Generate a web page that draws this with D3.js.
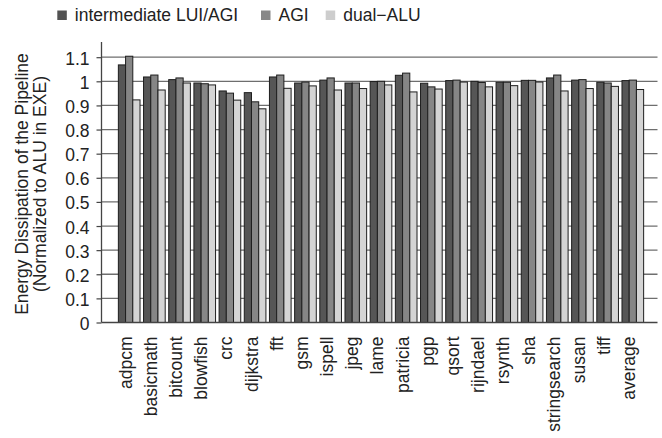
<!DOCTYPE html>
<html>
<head>
<meta charset="utf-8">
<script src="https://cdn.jsdelivr.net/npm/d3@7"></script>
<style>
  html, body { margin: 0; padding: 0; background: #fff; }
  svg { display: block; font-family: "Liberation Sans", Arial, Helvetica, sans-serif; }
</style>
</head>
<body>
<svg id="chart" width="662" height="438"></svg>
<script>
// Benchmarks (x categories)
const categories = ["adpcm", "basicmath", "bitcount", "blowfish", "crc", "dijkstra", "fft",
  "gsm", "ispell", "jpeg", "lame", "patricia", "pgp", "qsort", "rijndael", "rsynth",
  "sha", "stringsearch", "susan", "tiff", "average"];

// Series names
const seriesNames = ["intermediate LUI/AGI", "AGI", "dual\u2212ALU"];

// Normalized pipeline energy per benchmark
const luiAgi = [1.068, 1.018, 1.007, 0.993, 0.960, 0.953, 1.018, 0.993, 1.005, 0.993, 0.999,
  1.025, 0.992, 1.003, 1.000, 0.996, 1.004, 1.014, 1.005, 0.996, 1.003];
const agi = [1.104, 1.026, 1.014, 0.990, 0.951, 0.915, 1.026, 0.997, 1.014, 0.993, 1.000,
  1.034, 0.977, 1.005, 0.995, 0.996, 1.004, 1.026, 1.007, 0.993, 1.005];
const dualAlu = [0.923, 0.964, 0.993, 0.985, 0.922, 0.886, 0.971, 0.981, 0.964, 0.970, 0.985,
  0.956, 0.968, 0.997, 0.977, 0.982, 0.997, 0.960, 0.970, 0.979, 0.966];

// Y tick values and labels
const yTicks = [0, 0.1, 0.2, 0.3, 0.4, 0.5, 0.6, 0.7, 0.8, 0.9, 1.0, 1.1];
const yTickLabels = ["0", "0.1", "0.2", "0.3", "0.4", "0.5", "0.6", "0.7", "0.8", "0.9", "1", "1.1"];

const seriesValues = [luiAgi, agi, dualAlu];
const fills = ["#565656", "#868686", "#d4d4d4"];
const legendFills = ["#525252", "#888888", "#cdcdcd"];

const svg = d3.select("#chart");

// Plot frame
const plotLeft = 101.5, plotRight = 657.5, plotTop = 42, plotBottom = 322.5;

const y = d3.scaleLinear().domain([0, 1.163]).range([plotBottom, plotTop]);

const x0 = d3.scaleBand().domain(categories).range([103, 659])
  .paddingInner(0.14).paddingOuter(0.61);
const x1 = d3.scaleBand().domain(d3.range(seriesValues.length)).range([0, x0.bandwidth()]);

// Horizontal gridlines
svg.append("g")
  .selectAll("line")
  .data(yTicks.filter(d => d > 0))
  .join("line")
  .attr("x1", plotLeft).attr("x2", plotRight)
  .attr("y1", d => y(d)).attr("y2", d => y(d))
  .attr("stroke", "#6e6e6e").attr("stroke-width", 1.3);

// Bars
const groups = svg.append("g")
  .selectAll("g")
  .data(categories)
  .join("g")
  .attr("transform", d => `translate(${x0(d)},0)`);

groups.selectAll("rect")
  .data((d, i) => seriesValues.map((vals, s) => ({ s, v: vals[i] })))
  .join("rect")
  .attr("x", d => x1(d.s))
  .attr("width", x1.bandwidth())
  .attr("y", d => y(d.v))
  .attr("height", d => y(0) - y(d.v))
  .attr("fill", d => fills[d.s])
  .attr("stroke", "#1e1e1e")
  .attr("stroke-width", 1);

// Y axis
const yAxis = d3.axisLeft(y)
  .tickValues(yTicks)
  .tickFormat((d, i) => yTickLabels[i])
  .tickSize(5)
  .tickPadding(7);

const yg = svg.append("g")
  .attr("transform", `translate(${plotLeft},0)`)
  .call(yAxis);
yg.select(".domain").remove();
yg.selectAll(".tick line").attr("stroke", "#444").attr("stroke-width", 1.2);
yg.selectAll(".tick text")
  .attr("font-size", 17.5)
  .attr("fill", "#222")
  .attr("dy", "0.4em")
  .attr("font-family", "'Liberation Sans', Arial, sans-serif");

// Axis lines
svg.append("line")
  .attr("x1", plotLeft).attr("x2", plotLeft)
  .attr("y1", plotTop).attr("y2", plotBottom)
  .attr("stroke", "#444").attr("stroke-width", 1.3);
svg.append("line")
  .attr("x1", plotLeft).attr("x2", plotRight)
  .attr("y1", plotBottom).attr("y2", plotBottom)
  .attr("stroke", "#444").attr("stroke-width", 1.3);

// X labels (rotated)
const xAxis = d3.axisBottom(x0).tickSize(0).tickPadding(0);
const xg = svg.append("g")
  .attr("transform", `translate(0,${plotBottom})`)
  .call(xAxis);
xg.select(".domain").remove();
xg.selectAll(".tick text")
  .attr("font-size", 17.5)
  .attr("fill", "#222")
  .attr("font-family", "'Liberation Sans', Arial, sans-serif")
  .attr("text-anchor", "end")
  .attr("transform", "rotate(-90)")
  .attr("x", -14)
  .attr("y", 0)
  .attr("dy", "0.14em");

// Y axis title
const title = svg.append("text")
  .attr("transform", "translate(0,184) rotate(-90)")
  .attr("text-anchor", "middle")
  .attr("font-size", 17.5)
  .attr("fill", "#222");
title.append("tspan").attr("x", 0).attr("y", 28).text("Energy Dissipation of the Pipeline");
title.append("tspan").attr("x", 0).attr("y", 46).text("(Normalized to ALU in EXE)");

// Legend
const legendX = [57.3, 261, 325.7];
const legend = svg.append("g")
  .selectAll("g")
  .data(seriesNames)
  .join("g")
  .attr("transform", (d, i) => `translate(${legendX[i]},0)`);
legend.append("rect")
  .attr("x", 0).attr("y", 10.5)
  .attr("width", 9.5).attr("height", 9.5)
  .attr("fill", (d, i) => legendFills[i]);
legend.append("text")
  .attr("x", 17.5).attr("y", 20.5)
  .attr("font-size", 17.5)
  .attr("fill", "#222")
  .text(d => d);
</script>
</body>
</html>
